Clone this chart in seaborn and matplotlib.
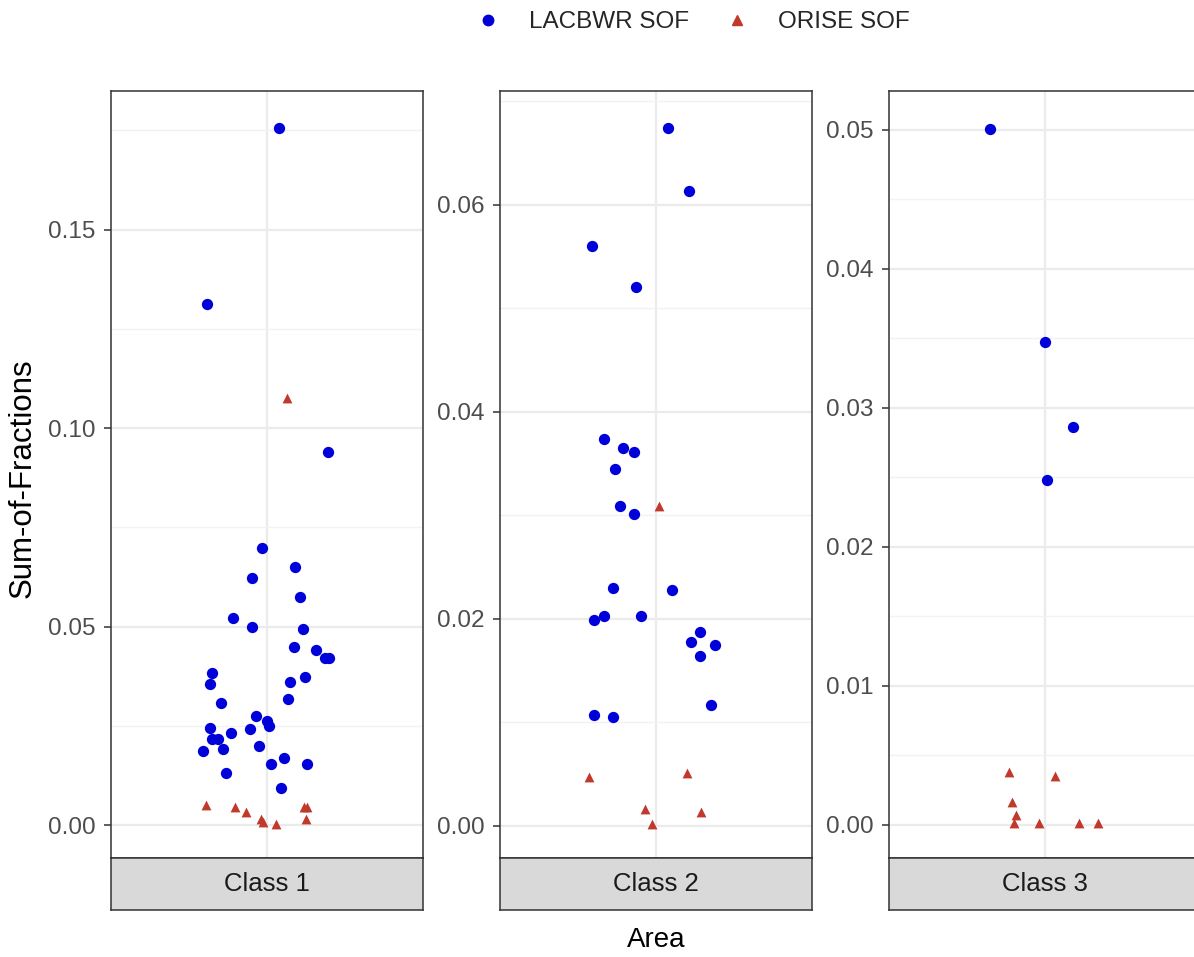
import numpy as np
import pandas as pd
import matplotlib
matplotlib.use("Agg")
import matplotlib.pyplot as plt
import seaborn as sns
from matplotlib.lines import Line2D
from matplotlib.ticker import MultipleLocator, FormatStrFormatter

# ----------------------------------------------------------
# Data (jitter offsets kept as seen)
# ----------------------------------------------------------
classes = ["Class 1", "Class 2", "Class 3"]
series = ["LACBWR SOF", "ORISE SOF"]

c1_lac_sof = [0.1756, 0.1312, 0.0940, 0.0697, 0.0649, 0.0622, 0.0574, 0.0521, 0.0500,
              0.0495, 0.0448, 0.0442, 0.0420, 0.0420, 0.0383, 0.0355, 0.0361, 0.0372,
              0.0307, 0.0317, 0.0275, 0.0263, 0.0249, 0.0244, 0.0243, 0.0232, 0.0217,
              0.0217, 0.0186, 0.0191, 0.0200, 0.0169, 0.0153, 0.0153, 0.0131, 0.0094]
c1_lac_jit = [0.047, -0.230, 0.236, -0.018, 0.107, -0.059, 0.128, -0.132, -0.059,
              0.137, 0.105, 0.188, 0.223, 0.240, -0.210, -0.220, 0.088, 0.147,
              -0.177, 0.082, -0.041, 0.000, 0.009, -0.220, -0.065, -0.138, -0.210,
              -0.188, -0.245, -0.170, -0.032, 0.064, 0.015, 0.155, -0.158, 0.055]
c1_orise_sof = [0.1075, 0.0050, 0.0045, 0.0034, 0.0014, 0.0008, 0.0003, 0.0045, 0.0045, 0.0015]
c1_orise_jit = [0.078, -0.235, -0.122, -0.081, -0.023, -0.017, 0.033, 0.142, 0.154, 0.150]

c2_lac_sof = [0.0674, 0.0613, 0.0560, 0.0521, 0.0374, 0.0365, 0.0361, 0.0345, 0.0309,
              0.0301, 0.0230, 0.0228, 0.0203, 0.0199, 0.0203, 0.0187, 0.0178, 0.0175,
              0.0164, 0.0117, 0.0107, 0.0105]
c2_lac_jit = [0.047, 0.128, -0.247, -0.077, -0.199, -0.126, -0.085, -0.158, -0.140,
              -0.085, -0.165, 0.062, -0.199, -0.238, -0.059, 0.169, 0.136, 0.228,
              0.168, 0.212, -0.237, -0.165]
c2_orise_sof = [0.0309, 0.0047, 0.0051, 0.0016, 0.0013, 0.0002]
c2_orise_jit = [0.013, -0.257, 0.120, -0.042, 0.172, -0.014]

c3_lac_sof = [0.0501, 0.0347, 0.0286, 0.0248]
c3_lac_jit = [-0.212, -0.001, 0.107, 0.009]
c3_orise_sof = [0.0038, 0.0035, 0.0016, 0.0007, 0.0001, 0.0001, 0.0001, 0.0001]
c3_orise_jit = [-0.137, 0.038, -0.127, -0.112, -0.120, -0.022, 0.130, 0.204]

frames = []
for cls, ls, lj, os_, oj in [
    ("Class 1", c1_lac_sof, c1_lac_jit, c1_orise_sof, c1_orise_jit),
    ("Class 2", c2_lac_sof, c2_lac_jit, c2_orise_sof, c2_orise_jit),
    ("Class 3", c3_lac_sof, c3_lac_jit, c3_orise_sof, c3_orise_jit),
]:
    frames.append(pd.DataFrame({"Area": cls, "jit": lj, "SOF": ls, "Type": series[0]}))
    frames.append(pd.DataFrame({"Area": cls, "jit": oj, "SOF": os_, "Type": series[1]}))
df = pd.concat(frames, ignore_index=True)

# ----------------------------------------------------------
# Styling (ggplot theme_bw look)
# ----------------------------------------------------------
sns.set_style("white")
plt.rcParams["font.family"] = ["Liberation Sans", "DejaVu Sans"]

palette = {"LACBWR SOF": "#0000D8", "ORISE SOF": "#C0392B"}
markers = {"LACBWR SOF": "o", "ORISE SOF": "^"}
sizes = {"LACBWR SOF": 66, "ORISE SOF": 50}

ylims = [(-0.0083, 0.1849), (-0.0031, 0.0710), (-0.0024, 0.0528)]
ysteps = [0.05, 0.02, 0.01]
lefts = [111, 500, 889]

W, H = 1194, 957
fig = plt.figure(figsize=(W / 100, H / 100), dpi=100)

for i, cls in enumerate(classes):
    left = lefts[i] / W
    width = 312 / W
    ax = fig.add_axes([left, 1 - 858 / H, width, 767 / H])
    sub = df[df["Area"] == cls]
    for t in series:
        d = sub[sub["Type"] == t]
        sns.scatterplot(data=d, x="jit", y="SOF", color=palette[t], marker=markers[t],
                        s=sizes[t], linewidth=0, ax=ax, legend=False, zorder=3)
    ax.set_xlim(-0.6, 0.6)
    ax.set_ylim(*ylims[i])
    ax.yaxis.set_major_locator(MultipleLocator(ysteps[i]))
    ax.yaxis.set_minor_locator(MultipleLocator(ysteps[i] / 2))
    ax.yaxis.set_major_formatter(FormatStrFormatter("%.2f"))
    ax.set_xticks([0])
    ax.set_xticklabels([])
    ax.tick_params(axis="x", length=0)
    ax.tick_params(axis="y", which="major", length=5, width=1.1, color="#333333",
                   labelsize=17.5, labelcolor="#4D4D4D", pad=6, left=True)
    ax.tick_params(axis="y", which="minor", length=0)
    ax.grid(True, which="major", color="#EBEBEB", linewidth=1.6, zorder=0)
    ax.grid(True, which="minor", axis="y", color="#F2F2F2", linewidth=1.0, zorder=0)
    ax.set_axisbelow(True)
    for sp in ax.spines.values():
        sp.set_color("#333333")
        sp.set_linewidth(1.1)
    ax.set_xlabel("")
    ax.set_ylabel("")

    # strip at the bottom
    sax = fig.add_axes([left, 1 - 910 / H, width, 52 / H])
    sax.set_facecolor("#D9D9D9")
    sax.set_xticks([])
    sax.set_yticks([])
    for sp in sax.spines.values():
        sp.set_color("#333333")
        sp.set_linewidth(1.1)
    sax.text(0.5, 0.5, cls, ha="center", va="center", fontsize=18.5,
             color="#1A1A1A", transform=sax.transAxes)

fig.text(23 / W, 1 - 478 / H, "Sum-of-Fractions", rotation=90, ha="center",
         va="center", fontsize=22.5, color="black")
fig.text(656 / W, 1 - 940 / H, "Area", ha="center", va="center",
         fontsize=20, color="black")

handles = [
    Line2D([], [], linestyle="", marker="o", markersize=7.5, color=palette[series[0]]),
    Line2D([], [], linestyle="", marker="^", markersize=7, color=palette[series[1]]),
]
fig.legend(handles, series, loc="center", bbox_to_anchor=(693 / W, 1 - 22 / H),
           ncol=2, frameon=False, fontsize=17.5, handlelength=1.0,
           handletextpad=1.19, columnspacing=1.48)

fig.savefig("out.png", dpi=100)
